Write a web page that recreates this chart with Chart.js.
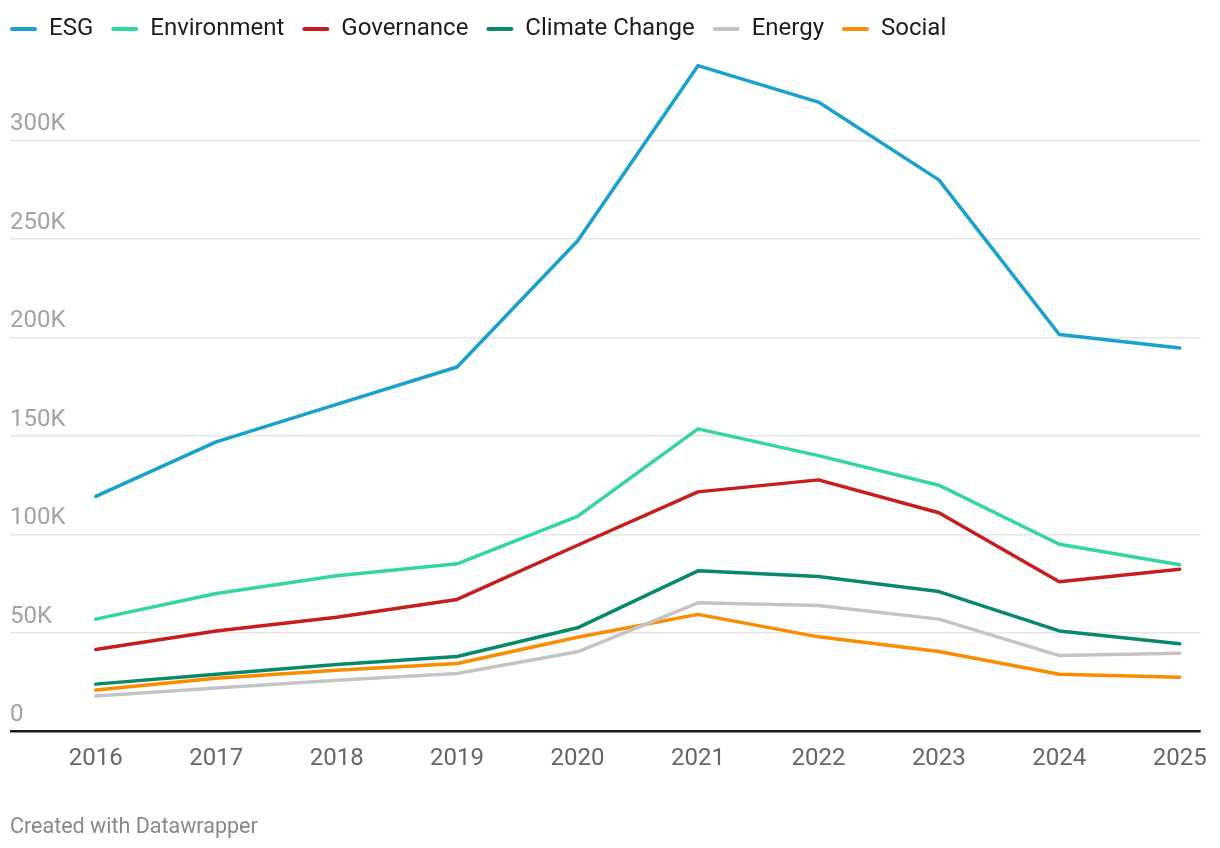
<!DOCTYPE html>
<html>
<head>
<meta charset="utf-8">
<script src="https://cdn.jsdelivr.net/npm/chart.js@4"></script>
<style>
html,body{margin:0;padding:0;background:#fff;}
#wrap{width:1220px;height:848px;position:relative;}
</style>
</head>
<body>
<div id="wrap"><canvas id="c" width="1220" height="848"></canvas></div>
<script>
const years = [2016, 2017, 2018, 2019, 2020, 2021, 2022, 2023, 2024, 2025];
const esg = [119300, 147000, 166000, 185000, 249000, 338000, 319500, 280000, 201500, 194700];
const environment = [57000, 70000, 79000, 85100, 109200, 153600, 140000, 125000, 95000, 84600];
const governance = [41600, 51000, 58000, 67000, 94500, 121600, 127700, 111000, 76000, 82300];
const climateChange = [24000, 29000, 34000, 38000, 52600, 81500, 78600, 71000, 51000, 44500];
const energy = [18000, 22000, 26000, 29400, 40400, 65300, 63900, 57000, 38500, 39700];
const social = [21000, 27000, 31000, 34500, 47800, 59400, 48000, 40600, 29000, 27500];
const yTicks = [0, 50000, 100000, 150000, 200000, 250000, 300000];
const seriesNames = ['ESG', 'Environment', 'Governance', 'Climate Change', 'Energy', 'Social'];
const seriesColors = ['#18a1cd', '#33d69f', '#c71e1d', '#09896b', '#c4c4c4', '#fa8c00'];
const seriesData = [esg, environment, governance, climateChange, energy, social];

const datasets = seriesNames.map((name, i) => ({
  label: name,
  data: years.map((y, j) => ({x: y, y: seriesData[i][j]})),
  borderColor: seriesColors[i],
  backgroundColor: seriesColors[i],
  borderWidth: 3.5,
  pointRadius: 0,
  pointHoverRadius: 0,
  tension: 0,
  borderCapStyle: 'round',
  borderJoinStyle: 'round'
}));

const LEGEND_FONT = 24, LEGEND_PAD = 18;
const legendTweak = {
  id: 'legendTweak',
  beforeLayout(chart) {
    const lg = chart.legend;
    if (lg && !lg._tweaked) {
      const orig = lg.update.bind(lg);
      lg.update = function (...a) { orig(...a); this.height = 42; };
      lg._tweaked = true;
    }
  },
  afterLayout(chart) {
    const lg = chart.legend;
    if (lg) {
      lg.left = 10 - LEGEND_PAD;
      lg.top = 29 - LEGEND_PAD - LEGEND_FONT / 2;
    }
  }
};

new Chart(document.getElementById('c'), {
  type: 'line',
  data: { datasets },
  plugins: [legendTweak],
  options: {
    responsive: false,
    animation: false,
    layout: { padding: { left: 10, right: 16, top: 0, bottom: 0 } },
    plugins: {
      tooltip: { enabled: false },
      legend: {
        position: 'top',
        align: 'start',
        labels: {
          font: { family: 'Roboto', size: LEGEND_FONT },
          color: '#1d1d1d',
          boxWidth: 27,
          boxHeight: 4,
          useBorderRadius: true,
          borderRadius: 2,
          padding: LEGEND_PAD,
          generateLabels(chart) {
            return Chart.defaults.plugins.legend.labels.generateLabels(chart).map(l => {
              l.lineWidth = 0;
              l.fillStyle = l.strokeStyle;
              return l;
            });
          }
        }
      },
      title: {
        display: true,
        position: 'bottom',
        align: 'start',
        text: 'Created with Datawrapper',
        color: '#888',
        font: { family: 'Roboto', size: 21.5, weight: 'normal' },
        padding: { top: 29, bottom: 7 }
      }
    },
    scales: {
      x: {
        type: 'linear',
        min: 2015.288,
        max: 2025.174,
        afterBuildTicks(scale) { scale.ticks = years.map(v => ({ value: v })); },
        ticks: {
          callback: v => String(v),
          font: { family: 'Roboto', size: 24 },
          color: '#666',
          padding: 13,
          maxRotation: 0,
          autoSkip: false
        },
        grid: { display: false, drawTicks: false },
        border: { display: false }
      },
      y: {
        min: 0,
        max: 350000,
        afterBuildTicks(scale) { scale.ticks = yTicks.map(v => ({ value: v })); },
        afterFit(scale) { scale.width = 0; },
        ticks: {
          mirror: true,
          padding: 0,
          labelOffset: -16,
          callback: v => v === 0 ? '0' : (v / 1000) + 'K',
          font: { family: 'Roboto', size: 24 },
          color: '#a3a3a3'
        },
        grid: {
          drawTicks: false,
          color: ctx => ctx.tick && ctx.tick.value === 0 ? '#1a1a1a' : '#e5e5e5',
          lineWidth: ctx => ctx.tick && ctx.tick.value === 0 ? 2.5 : 1.5
        },
        border: { display: false }
      }
    }
  }
});
</script>
</body>
</html>
